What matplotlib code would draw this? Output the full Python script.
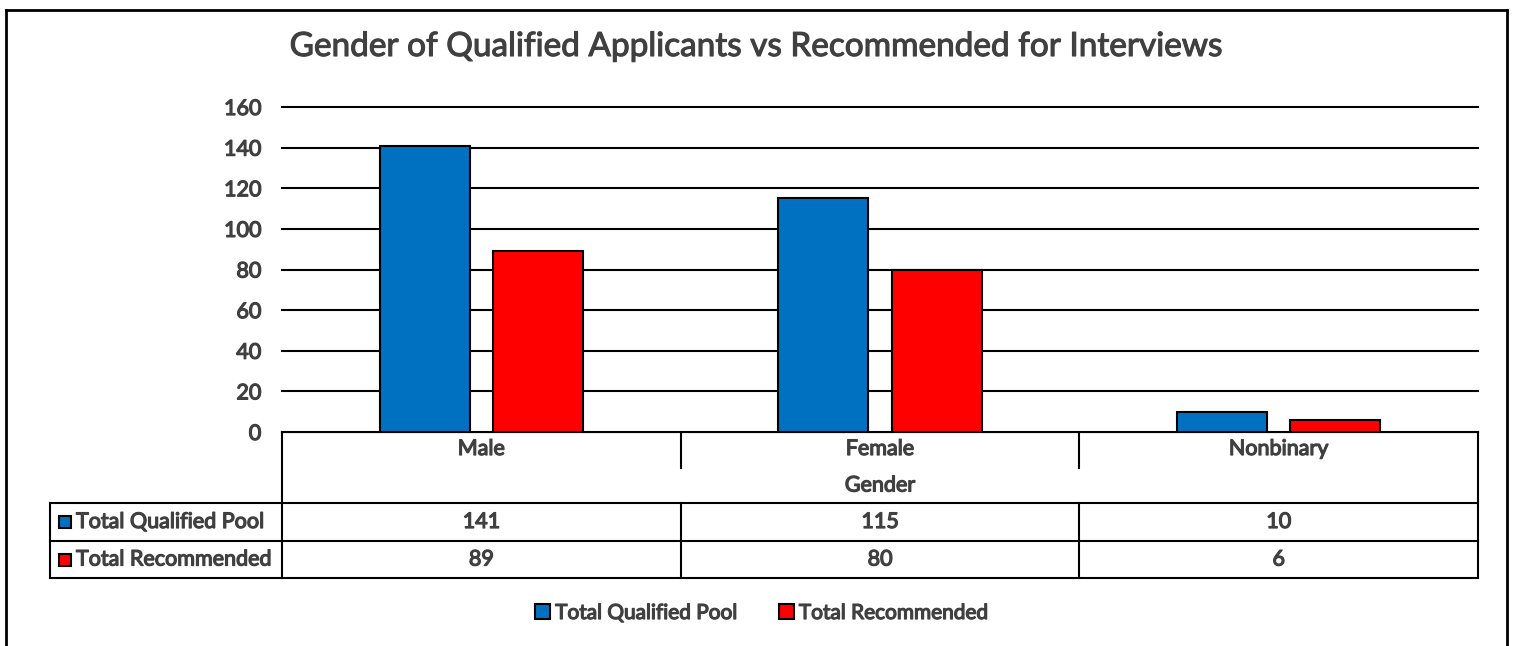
import numpy as np
import matplotlib.pyplot as plt
import matplotlib.patheffects as pe
from matplotlib.patches import Patch

plt.rcParams['font.family'] = ['Lato', 'DejaVu Sans']

categories = ['Male', 'Female', 'Nonbinary']
qualified = [141, 115, 10]
recommended = [89, 80, 6]
series_names = ['Total Qualified Pool', 'Total Recommended']
yticks = [0, 20, 40, 60, 80, 100, 120, 140, 160]
x_title = 'Gender'
title = 'Gender of Qualified Applicants vs Recommended for Interviews'

BLUE = '#0070C0'
RED = '#FF0000'
TXT = '#404040'

W, H = 1515, 646
fig = plt.figure(figsize=(W / 100, H / 100), dpi=100)

# fake a heavier weight, lato bold is not there
heavy = [pe.withStroke(linewidth=0.9, foreground=TXT)]

L, R, T, B = 282, 1478, 107, 432
ax = fig.add_axes([L / W, 1 - B / H, (R - L) / W, (B - T) / H])
x = np.arange(len(categories))
bw = 0.226
off = 0.142
ax.bar(x - off, qualified, bw, color=BLUE, edgecolor='black', linewidth=1.5, zorder=3)
ax.bar(x + off, recommended, bw, color=RED, edgecolor='black', linewidth=1.5, zorder=3)
ax.set_xlim(-0.5, len(categories) - 0.5)
ax.set_ylim(0, 160)
ax.set_yticks(yticks)
ax.set_yticklabels([str(v) for v in yticks], fontsize=15.5, color=TXT, path_effects=heavy)
ax.tick_params(axis='y', length=0, pad=15)
ax.set_xticks([])
ax.grid(axis='y', color='black', linewidth=1.5, zorder=0)
for gl in ax.get_ygridlines():
    gl.set_clip_on(False)
for s in ax.spines.values():
    s.set_visible(False)

# overlay in pixel coords for the data table and border
ov = fig.add_axes([0, 0, 1, 1], zorder=-1)
ov.set_xlim(0, W)
ov.set_ylim(H, 0)
ov.axis('off')
lw = 1.5
ov.plot([6, 6], [10, H], color='black', lw=2)
ov.plot([6, 1507], [10, 10], color='black', lw=2)
ov.plot([1507, 1507], [10, H], color='black', lw=2)

col_w = (R - L) / len(categories)
row1, row2, row3, row4, row5 = 432, 468, 503, 541, 578
lab_x = 50
ov.plot([L, R], [row1, row1], color='black', lw=lw)
for yy in [row3, row4, row5]:
    ov.plot([lab_x, R], [yy, yy], color='black', lw=lw)
ov.plot([L, L], [row1, row5], color='black', lw=lw)
ov.plot([R, R], [row1, row5], color='black', lw=lw)
ov.plot([lab_x, lab_x], [row3, row5], color='black', lw=lw)
for i in range(1, len(categories)):
    xx = L + i * col_w
    ov.plot([xx, xx], [row1, row2], color='black', lw=lw)
    ov.plot([xx, xx], [row3, row5], color='black', lw=lw)

fs = 15.5
kw = dict(fontsize=fs, color=TXT, path_effects=heavy, va='center')
for i, c in enumerate(categories):
    cx = L + (i + 0.5) * col_w
    ov.text(cx, (row1 + row2) / 2 - 1, c, ha='center', **kw)
    ov.text(cx, (row3 + row4) / 2, str(qualified[i]), ha='center', **kw)
    ov.text(cx, (row4 + row5) / 2, str(recommended[i]), ha='center', **kw)
ov.text((L + R) / 2, (row2 + row3) / 2, x_title, ha='center', **kw)

for (yy0, yy1), name, colr in zip([(row3, row4), (row4, row5)], series_names, [BLUE, RED]):
    cy = (yy0 + yy1) / 2
    ov.add_patch(plt.Rectangle((59, cy - 6), 12, 12, facecolor=colr, edgecolor='black', lw=1.5))
    ov.text(76, cy, name, ha='left', **kw)

ov.text(756, 47, title, ha='center', va='center', fontsize=24, color=TXT,
        path_effects=[pe.withStroke(linewidth=0.8, foreground=TXT)])

handles = [Patch(facecolor=BLUE, edgecolor='black', lw=1.5), Patch(facecolor=RED, edgecolor='black', lw=1.5)]
leg = fig.legend(handles, series_names, loc='center', bbox_to_anchor=(762 / W, 1 - 613 / H), ncol=2,
                 frameon=False, handlelength=0.7, handleheight=0.7, handletextpad=0.25, columnspacing=2.0,
                 prop={'size': 15})
for t in leg.get_texts():
    t.set_color(TXT)
    t.set_path_effects(heavy)

fig.savefig('out.png', dpi=100)
